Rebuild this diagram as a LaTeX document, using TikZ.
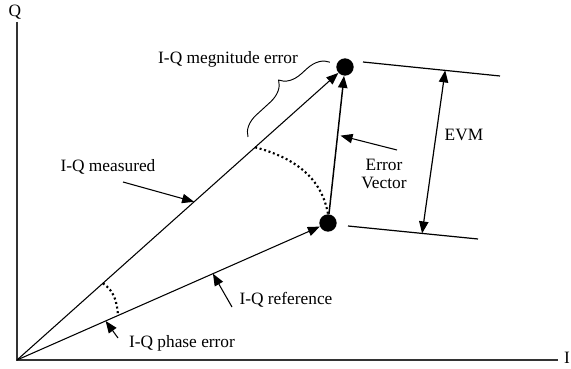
\documentclass[tikz,border=0pt]{standalone}
\usepackage{fontspec}
\setmainfont{Liberation Serif}
\usetikzlibrary{arrows.meta}
\usetikzlibrary{calc}
\usetikzlibrary{decorations.pathreplacing}
\tikzstyle{axis}=[line width=1pt, draw=black!80]
\tikzstyle{iq vector}=[line width=0.8pt, -{Triangle[length=9pt, width=7pt]}]
\tikzstyle{sample point}=[circle, fill, inner sep=0, minimum size=13pt]
\tikzstyle{annotation}=[font=\fontsize{13}{13.5}\selectfont, inner sep=1pt]
\tikzstyle{pointer}=[line width=0.8pt, -{Triangle[length=9pt, width=7pt]}]
\tikzstyle{evm span}=[line width=0.9pt, {Triangle[length=9pt, width=7pt]}-{Triangle[length=9pt, width=7pt]}]
\tikzstyle{evm bound}=[line width=0.9pt]
\tikzstyle{error arc}=[line width=1.6pt, dash pattern=on 1.5pt off 2pt]
\tikzstyle{brace line}=[line width=0.7pt]

\begin{document}
\begin{tikzpicture}[x=0.75pt, y=0.75pt]
          \useasboundingbox (0, 0) rectangle (571, 368);
          \coordinate (origin) at (17, 8);
          \coordinate (q_end) at (17, 346);
          \coordinate (i_end) at (558, 8);
          \node[annotation] (q_label) at (15, 356) {Q};
          \node[annotation] (i_label) at (567, 10) {I};
          \draw[axis] (q_end) -- (origin) -- (i_end);

          \node[sample point] (meas) at (345, 301) {};
          \node[sample point] (ref) at (328, 145) {};
          \draw[iq vector] (origin) -- (meas);
          \draw[iq vector] (origin) -- (ref);
          \draw[iq vector, line width=1.1pt] (ref) -- (meas);

          % EVM bounds
          \coordinate (evm_top_a) at (363, 306);
          \coordinate (evm_top_b) at (500, 292);
          \coordinate (evm_bot_a) at (348, 142);
          \coordinate (evm_bot_b) at (478, 129);
          \draw[evm bound] (evm_top_a) -- (evm_top_b);
          \draw[evm bound] (evm_bot_a) -- (evm_bot_b);
          \coordinate (evm_top) at ($(evm_top_a)!0.6!(evm_top_b)$);
          \coordinate (evm_bot) at ($(evm_bot_a)!0.57!(evm_bot_b)$);
          \draw[evm span] (evm_top) -- (evm_bot);
          \node[annotation] (evm_label) at (464, 233) {EVM};

          % labels and pointers
          \node[annotation] (magnitude_label) at (228, 309) {I-Q megnitude error};
          \node[annotation] (measured_label) at (108, 201) {I-Q measured};
          \node[annotation] (reference_label) at (286, 68) {I-Q reference};
          \node[annotation] (phase_label) at (182, 25) {I-Q phase error};
          \node[annotation, align=center] (error_label) at (384, 194) {Error\\Vector};

          \coordinate (measured_tail) at (123, 186);
          \coordinate (reference_tail) at (232, 61);
          \coordinate (phase_tail) at (118, 30);
          \coordinate (error_tail) at (397, 218);
          \draw[pointer] (measured_tail) -- ($(origin)!0.54!(meas)$);
          \draw[pointer] (reference_tail) -- ($(origin)!0.63!(ref)$);
          \draw[pointer] (phase_tail) -- ($(origin)!0.285!(ref)$);
          \draw[pointer] (error_tail) -- ($(ref)!0.56!(meas) + (3, 0)$);

          % error arcs
          \draw[error arc] ($(origin)!0.726!(meas)$) to[out=-15, in=100] (ref.north);
          \draw[error arc] ($(origin)!0.262!(meas)$) to[out=-35, in=95] ($(origin)!0.325!(ref)$);

          \coordinate (brace_start) at (248, 231);
          \coordinate (brace_end) at (330, 306);
          \draw[brace line, decorate, decoration={brace, amplitude=16pt, aspect=0.55}]
            (brace_start) -- (brace_end);
        \end{tikzpicture}
\end{document}
